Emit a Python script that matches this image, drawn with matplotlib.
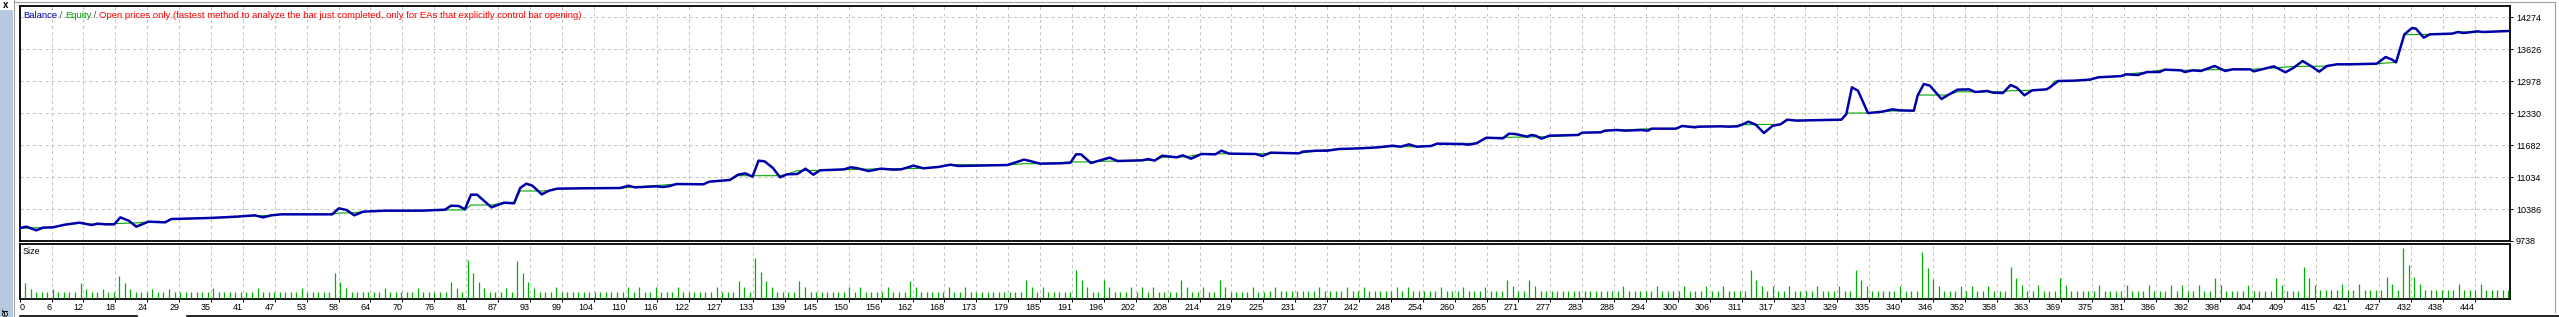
import numpy as np
import matplotlib.pyplot as plt
from matplotlib.lines import Line2D
from matplotlib.patches import Rectangle

plt.rcParams['font.family'] = ['Liberation Sans', 'DejaVu Sans']

# balance curve (blue), knots: trade number, value
bal_t = [0, 1.2, 3.0, 4.2, 6.0, 8.2, 10.8, 13.0, 14.1, 15.6, 17.1, 18.2, 19.7, 21.1, 23.3, 26.3, 27.4,
         34.4, 39.2, 42.5, 44.0, 45.5, 47.3, 56.5, 57.7, 59.1, 60.5, 62.1, 66.1, 72.8, 76.9, 78.0,
         79.4, 80.5, 81.6, 82.7, 85.3, 87.6, 89.4, 90.5, 91.6, 92.7, 94.4, 95.7, 97.2, 101.6, 108.6,
         110.1, 111.2, 114.0, 115.1, 116.2, 117.3, 118.8, 123.6, 124.7, 128.4, 129.9, 131.2, 132.5,
         133.6, 134.7, 136.2, 137.5, 138.7, 140.6, 142.1, 143.5, 144.7, 149.1, 150.2, 151.3, 153.5,
         155.7, 158.0, 159.4, 161.6, 163.4, 166.1, 168.3, 169.7, 178.6, 181.6, 182.7, 184.5, 188.2,
         190.0, 191.0, 191.9, 193.7, 195.6, 197.1, 198.5, 203.0, 204.1, 205.2, 206.6, 209.2, 210.3,
         211.8, 213.7, 216.2, 217.3, 218.7, 223.5, 224.7, 226.2, 231.3, 232.0, 234.6, 236.4, 238.6,
         242.3, 245.7, 248.2, 249.7, 251.2, 252.6, 255.2, 256.3, 260.8, 261.9, 263.4, 265.2, 268.2,
         269.3, 270.4, 272.6, 273.3, 274.1, 275.2, 276.6, 281.8, 282.5, 285.9, 286.6, 288.8, 290.3,
         293.2, 294.4, 295.1, 299.5, 300.6, 302.9, 303.6, 307.6, 309.1, 310.6, 311.7, 312.6, 313.9,
         315.4, 317.0, 318.4, 319.6, 321.3, 323.5, 326.1, 329.4, 330.3, 331.3, 332.4, 334.2, 335.7,
         336.8, 338.6, 340.0, 342.5, 343.2, 344.3, 345.4, 347.5, 348.6, 350.4, 352.5, 353.6, 355.8,
         356.8, 358.6, 360.0, 361.1, 362.5, 363.9, 366.5, 367.2, 368.6, 371.5, 374.3, 375.8, 380.1,
         380.8, 383.0, 384.7, 386.9, 387.9, 390.8, 391.5, 392.9, 394.4, 396.9, 398.8, 400.1, 403.3,
         404.0, 407.6, 409.7, 411.1, 412.8, 414.4, 415.8, 417.2, 419.0, 421.5, 426.2, 427.8, 429.0,
         429.7, 431.2, 432.6, 433.3, 434.7, 435.8, 439.8, 440.9, 441.9, 444.4, 445.5, 450.1]
bal_v = [10000, 10028, 9954, 10008, 10015, 10069, 10109, 10062, 10089, 10075, 10075, 10217, 10150,
         10028, 10130, 10116, 10183, 10204, 10231, 10258, 10217, 10258, 10278, 10278, 10400, 10366,
         10258, 10332, 10352, 10352, 10372, 10453, 10447, 10379, 10676, 10676, 10420, 10514, 10501,
         10811, 10899, 10858, 10683, 10757, 10798, 10805, 10811, 10858, 10825, 10838, 10845, 10832,
         10845, 10892, 10886, 10940, 10973, 11081, 11108, 11041, 11365, 11351, 11216, 11027, 11088,
         11095, 11203, 11081, 11169, 11189, 11230, 11216, 11155, 11203, 11183, 11189, 11264, 11210,
         11237, 11284, 11257, 11277, 11385, 11358, 11304, 11311, 11324, 11493, 11493, 11318, 11378,
         11426, 11358, 11372, 11398, 11365, 11466, 11432, 11473, 11405, 11500, 11493, 11567, 11507,
         11500, 11459, 11527, 11513, 11547, 11567, 11567, 11601, 11614, 11635, 11668, 11648, 11695,
         11648, 11662, 11709, 11702, 11689, 11716, 11830, 11817, 11912, 11905, 11851, 11885, 11871,
         11810, 11871, 11885, 11932, 11939, 11972, 11986, 11972, 11986, 11972, 12013, 12013, 12067,
         12040, 12053, 12060, 12053, 12060, 12107, 12155, 12094, 11925, 12074, 12101, 12195, 12175,
         12182, 12188, 12195, 12310, 12850, 12782, 12330, 12344, 12357, 12404, 12384, 12377, 12688,
         12917, 12884, 12614, 12688, 12803, 12809, 12755, 12776, 12742, 12735, 12897, 12843, 12688,
         12789, 12809, 12857, 12978, 12985, 13005, 13052, 13079, 13113, 13100, 13160, 13160, 13208,
         13194, 13160, 13194, 13181, 13282, 13181, 13214, 13214, 13174, 13275, 13154, 13241, 13383,
         13275, 13167, 13282, 13316, 13316, 13329, 13464, 13410, 13356, 13923, 14051, 14038, 13856,
         13923, 13937, 13970, 13950, 13984, 13970, 13991]

# equity curve (green), knots
eq_t = [0, 1.2, 4.2, 6.0, 8.2, 10.8, 13.0, 17.1, 21.1, 23.3, 26.3, 27.4, 34.4, 39.2, 42.5, 45.5, 47.3,
        56.5, 57.7, 60.5, 62.1, 66.1, 76.9, 80.5, 81.6, 85.3, 87.6, 89.4, 90.5, 94.4, 95.7, 97.2,
        108.6, 111.2, 118.8, 123.6, 124.7, 128.4, 129.9, 137.5, 138.7, 140.6, 144.7, 149.1, 155.7,
        159.4, 163.4, 166.1, 168.3, 178.6, 181.6, 184.5, 190.0, 193.7, 195.6, 198.5, 205.2, 206.6,
        210.3, 211.8, 213.7, 218.7, 223.5, 226.2, 231.3, 234.6, 238.6, 242.3, 245.7, 248.2, 252.6,
        255.2, 256.3, 263.4, 265.2, 268.2, 276.6, 281.8, 282.5, 285.9, 286.6, 295.1, 299.5, 300.6,
        309.1, 311.7, 318.4, 319.6, 329.4, 330.3, 334.2, 336.8, 338.6, 342.5, 343.2, 348.6, 350.4,
        358.6, 360.0, 363.9, 366.5, 367.0, 368.0, 371.5, 374.3, 375.8, 380.1, 380.8, 384.7, 387.9,
        390.8, 400.1, 403.3, 407.6, 409.7, 412.8, 415.8, 417.2, 419.0, 426.2, 429.7, 431.2, 435.8,
        439.8, 440.9, 445.5, 450.1]
eq_v = [10000, 10000, 10008, 10015, 10069, 10109, 10075, 10090, 10105, 10125, 10130, 10183, 10204,
        10231, 10245, 10258, 10278, 10278, 10305, 10310, 10332, 10352, 10366, 10366, 10467, 10467,
        10514, 10520, 10751, 10751, 10757, 10798, 10811, 10830, 10892, 10886, 10940, 10973, 11061,
        11061, 11088, 11162, 11169, 11183, 11200, 11203, 11210, 11237, 11284, 11277, 11304, 11304,
        11338, 11340, 11352, 11358, 11372, 11432, 11440, 11459, 11500, 11507, 11500, 11513, 11513,
        11567, 11601, 11614, 11635, 11648, 11648, 11662, 11709, 11716, 11830, 11837, 11850, 11885,
        11932, 11939, 11972, 12013, 12013, 12060, 12060, 12094, 12101, 12182, 12195, 12330, 12330,
        12357, 12371, 12377, 12694, 12694, 12760, 12762, 12782, 12789, 12809, 12830, 12978, 12985,
        13005, 13052, 13079, 13113, 13160, 13208, 13194, 13214, 13214, 13240, 13262, 13276, 13276,
        13282, 13316, 13329, 13356, 13916, 13923, 13937, 13970, 13970, 13991]

# lot size per trade, in hundredths of a lot (trades 1..450)
size_raw = [
    26, 16, 10, 10, 10, 16, 10, 10, 10, 10,   26, 16, 10, 10, 16, 10, 10, 39, 26, 16,
    10, 10, 10, 16, 10, 10, 16, 10, 10, 10,   10, 10, 10, 10, 17, 10, 10, 10, 10, 10,
    10, 10, 17, 10, 10, 10, 10, 10, 10, 10,   17, 10, 10, 10, 10, 10, 43, 28, 17, 10,
    10, 10, 10, 10, 10, 17, 10, 10, 10, 10,   10, 17, 10, 10, 10, 10, 10, 28, 17, 10,
    67, 43, 28, 17, 10, 10, 10, 17, 10, 65,   43, 28, 17, 10, 10, 10, 19, 10, 10, 10,
    10, 10, 10, 10, 10, 10, 10, 10, 10, 19,   10, 19, 10, 10, 19, 10, 10, 10, 19, 10,
    11, 11, 11, 11, 11, 19, 11, 11, 11, 30,   19, 11, 70, 45, 30, 19, 11, 11, 11, 11,
    30, 19, 11, 11, 11, 11, 11, 11, 11, 19,   11, 19, 11, 11, 11, 11, 19, 11, 11, 11,
    30, 19, 11, 11, 11, 11, 11, 19, 11, 11,   19, 11, 11, 11, 11, 11, 11, 11, 11, 11,
    11, 32, 19, 11, 19, 11, 11, 11, 11, 11,   49, 32, 19, 11, 11, 32, 19, 11, 11, 11,
    19, 11, 19, 11, 19, 11, 11, 11, 11, 32,   19, 11, 11, 19, 11, 11, 32, 19, 11, 11,
    11, 11, 19, 11, 11, 12, 19, 12, 12, 12,   12, 12, 12, 12, 19, 12, 12, 12, 12, 19,
    12, 12, 19, 12, 12, 12, 12, 12, 19, 12,   19, 12, 12, 12, 12, 12, 19, 12, 12, 12,
    19, 12, 12, 12, 19, 12, 12, 12, 32, 21,   12, 12, 32, 21, 12, 12, 12, 12, 12, 12,
    12, 12, 12, 12, 12, 12, 12, 12, 12, 21,   12, 12, 12, 12, 12, 21, 12, 12, 12, 12,
    21, 12, 12, 12, 21, 12, 12, 21, 12, 12,   12, 12, 49, 32, 21, 12, 21, 12, 12, 21,
    12, 12, 12, 12, 21, 12, 12, 12, 21, 12,   13, 49, 32, 21, 13, 13, 13, 13, 13, 21,
    13, 13, 13, 80, 52, 33, 21, 13, 13, 13,   21, 13, 21, 13, 13, 21, 13, 13, 13, 54,
    35, 23, 13, 13, 23, 13, 13, 13, 35, 23,   13, 13, 13, 13, 13, 23, 13, 13, 13, 13,
    23, 13, 13, 13, 23, 13, 13, 13, 23, 13,   23, 13, 13, 23, 13, 13, 35, 23, 13, 13,
    13, 13, 23, 13, 13, 13, 13, 35, 23, 13,   13, 13, 54, 35, 22, 14, 14, 14, 14, 24,
    14, 14, 24, 14, 14, 14, 14, 36, 24, 14,   87, 57, 37, 25, 14, 14, 14, 14, 14, 14,
    24, 14, 14, 14, 24, 14, 14, 14, 14, 14,
]

x_labels = ['0', '6', '12', '18', '24', '29', '35', '41', '47', '53', '58', '64', '70', '76', '81',
            '87', '93', '99', '104', '110', '116', '122', '127', '133', '139', '145', '150', '156',
            '162', '168', '173', '179', '185', '191', '196', '202', '208', '214', '219', '225', '231',
            '237', '242', '248', '254', '260', '265', '271', '277', '283', '288', '294', '300', '306',
            '311', '317', '323', '329', '335', '340', '346', '352', '358', '363', '369', '375', '381',
            '386', '392', '398', '404', '409', '415', '421', '427', '432', '438', '444']
y_ticks = [9738, 10386, 11034, 11682, 12330, 12978, 13626, 14274]

title_parts = [('Balance', '#0000b0'), (' / ', '#505060'), ('Equity', '#00a000'), (' / ', '#505060'),
               ('Open prices only (fastest method to analyze the bar just completed, only for EAs '
                'that explicitly control bar opening)', '#ff0000')]

W, H = 2559, 317
fig = plt.figure(figsize=(W / 100, H / 100), dpi=100)
fig.patch.set_facecolor('white')


def fx(px):
    return px / W


def fy(py):
    return 1 - py / H


FS = 6.5
grid_col = '#c4c4c4'
dash = (0, (3, 3))

# window decorations
fig.patches.append(Rectangle((0, 0), fx(12.5), fy(10), transform=fig.transFigure,
                             facecolor='#b6c9e1', edgecolor='none'))
fig.lines.append(Line2D([fx(13.5)] * 2, [0, 1], transform=fig.transFigure, color='#a0a0a0', lw=0.8))
fig.lines.append(Line2D([fx(13.5), fx(2555)], [fy(1.5)] * 2, transform=fig.transFigure,
                        color='#a0a0a0', lw=0.8))
fig.lines.append(Line2D([fx(2555)] * 2, [fy(1.5), fy(312)], transform=fig.transFigure,
                        color='#a0a0a0', lw=0.8))
fig.lines.append(Line2D([fx(20), fx(137)], [fy(315.5)] * 2, transform=fig.transFigure,
                        color='black', lw=1.2))
fig.lines.append(Line2D([fx(187), fx(2559)], [fy(315.5)] * 2, transform=fig.transFigure,
                        color='black', lw=1.2))
fig.text(fx(5.5), fy(5.5), 'x', fontsize=7, fontweight='bold', ha='center', va='center')
# only the end of the vertical "Tester" caption shows in the crop
fig.text(fx(6), fy(316.5), 'er', fontsize=FS + 0.5, rotation=90, ha='center', va='bottom')

# main chart
x0, x1 = 19.7, 2510
ax = fig.add_axes([fx(x0), fy(241), fx(x1) - fx(x0), fy(6) - fy(241)])
axs = fig.add_axes([fx(x0), fy(299), fx(x1) - fx(x0), fy(243.5) - fy(299)], sharex=ax)

step = 444 / 77
x_pos = np.arange(len(x_labels)) * step

ax.plot(eq_t, eq_v, color='#00aa00', lw=0.8, zorder=3)
ax.plot(bal_t, bal_v, color='#0000aa', lw=1.8, zorder=4, solid_joinstyle='round')
ax.set_xlim(0, 450.3)
ax.set_ylim(9738, 14497)
ax.set_yticks(y_ticks)
ax.set_yticklabels([str(v) for v in y_ticks])
ax.yaxis.tick_right()
ax.tick_params(axis='y', direction='out', length=2.2, width=0.7, pad=2, labelsize=FS)
ax.tick_params(axis='x', length=0, labelbottom=False)
ax.set_xticks(x_pos)
ax.grid(True, color=grid_col, linestyle=dash, linewidth=0.75)
ax.set_axisbelow(True)
for s in ax.spines.values():
    s.set_linewidth(1.3)

# size panel
trades = np.arange(1, len(size_raw) + 1)
sizes = np.array(size_raw) / 100
axs.vlines(trades, 0, sizes, color='#00b000', lw=0.9, zorder=3)
axs.set_ylim(-0.018, 0.956)
axs.set_yticks([])
axs.set_xticks(x_pos)
axs.set_xticklabels(x_labels)
axs.tick_params(axis='x', direction='out', length=2.4, width=0.7, pad=0.5, labelsize=FS)
for i, lab in enumerate(axs.get_xticklabels()):
    lab.set_ha('left' if i == 0 else 'right')
axs.grid(True, axis='x', color=grid_col, linestyle=dash, linewidth=0.75)
axs.set_axisbelow(True)
for s in axs.spines.values():
    s.set_linewidth(1.3)
axs.text(fx(23), fy(252), 'Size', transform=fig.transFigure, fontsize=FS, va='center', ha='left')

# coloured caption
r = fig.canvas.get_renderer()
xp = 23
for txt, col in title_parts:
    t = fig.text(fx(xp), fy(15), txt, color=col, fontsize=6.8, va='center', ha='left')
    xp += t.get_window_extent(r).width

fig.savefig('out.png', dpi=100)
